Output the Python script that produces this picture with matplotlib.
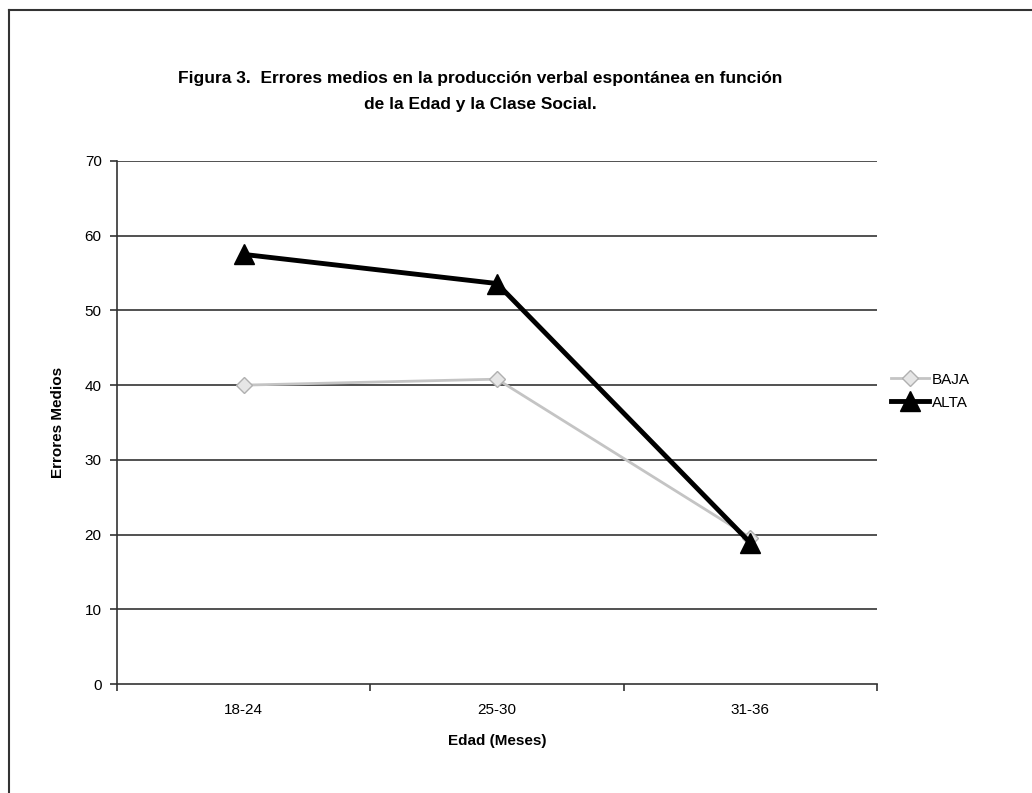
import matplotlib.pyplot as plt
from matplotlib.lines import Line2D

plt.rcParams['font.family'] = ['Liberation Sans', 'DejaVu Sans']

edades = ['18-24', '25-30', '31-36']
baja = [40.0, 40.8, 19.6]
alta = [57.5, 53.6, 18.9]
yticks = [0, 10, 20, 30, 40, 50, 60, 70]

fig = plt.figure(figsize=(10.32, 7.93), dpi=100)
ax = fig.add_axes([117 / 1032, 1 - 684 / 793, 760 / 1032, 523 / 793])

x = list(range(len(edades)))
for yv in yticks[1:]:
    ax.axhline(yv, color='#333333', lw=1.2, zorder=1)

ax.plot(x, baja, color='#c4c4c4', lw=2, marker='D', ms=8,
        mfc='#e6e6e6', mec='#b0b0b0', label='BAJA', zorder=2)
ax.plot(x, alta, color='black', lw=3.5, marker='^', ms=14,
        mfc='black', mec='black', label='ALTA', zorder=3)

ax.set_xlim(-0.5, 2.5)
ax.set_ylim(0, 70)
ax.set_yticks(yticks)
ax.set_xticks(x)
ax.set_xticklabels(edades)
ax.set_xticks([-0.5, 0.5, 1.5, 2.5], minor=True)
ax.tick_params(axis='x', which='major', length=0, pad=14, labelsize=11)
ax.tick_params(axis='x', which='minor', length=5, width=1.2, color='#333333')
ax.tick_params(axis='y', length=5, width=1.2, color='#333333', labelsize=11, pad=6)

for side in ['top', 'right']:
    ax.spines[side].set_visible(False)
for side in ['left', 'bottom']:
    ax.spines[side].set_color('#333333')
    ax.spines[side].set_linewidth(1.2)

ax.set_xlabel('Edad (Meses)', fontsize=11, fontweight='bold', labelpad=12)
ax.set_ylabel('Errores Medios', fontsize=11, fontweight='bold', labelpad=14)

fig.text(0.465, 1 - 79 / 793, 'Figura 3.  Errores medios en la producción verbal espontánea en función',
         ha='center', va='center', fontsize=12.5, fontweight='bold')
fig.text(0.465, 1 - 104 / 793, 'de la Edad y la Clase Social.',
         ha='center', va='center', fontsize=12.5, fontweight='bold')

ax.legend(loc='center left', bbox_to_anchor=(1.0, 0.56), frameon=False,
          fontsize=11, handlelength=2.5, handletextpad=0.2, labelspacing=0.6)

# marco exterior
fig.add_artist(Line2D([9 / 1032, 9 / 1032], [0, 1 - 10 / 793], color='#333333', lw=1.5))
fig.add_artist(Line2D([9 / 1032, 1], [1 - 10 / 793, 1 - 10 / 793], color='#333333', lw=1.5))

fig.savefig('out.png', dpi=100)
